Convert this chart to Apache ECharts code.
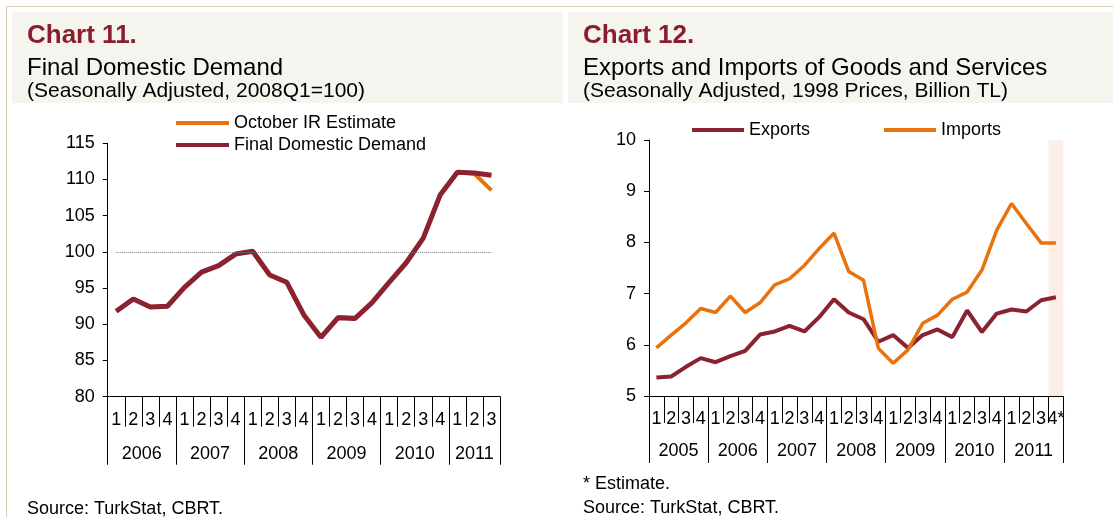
<!DOCTYPE html>
<html>
<head>
<meta charset="utf-8">
<script src="https://cdn.jsdelivr.net/npm/echarts@6/dist/echarts.min.js"></script>
<style>
  html, body { margin: 0; padding: 0; background: #fff; }
  #chart { width: 1113px; height: 517px; }
</style>
</head>
<body>
<div id="chart"></div>
<script>
// ---- Chart 11: Final Domestic Demand (2006Q1 - 2011Q3) ----
const fddQuarters = ['1','2','3','4','1','2','3','4','1','2','3','4','1','2','3','4','1','2','3','4','1','2','3']
const fddYears = ['2006', '2007', '2008', '2009', '2010', '2011']
const fddYearSpans = [4, 4, 4, 4, 4, 3]
const finalDomesticDemand = [91.8, 93.5, 92.4, 92.5, 95.1, 97.2, 98.1, 99.7, 100.1, 96.8, 95.8, 91.3,
  88.2, 90.9, 90.8, 93.0, 95.8, 98.5, 101.9, 107.9, 111.0, 110.9, 110.6]
const octoberIrEstimate = [91.8, 93.5, 92.4, 92.5, 95.1, 97.2, 98.1, 99.7, 100.1, 96.8, 95.8, 91.3,
  88.2, 91.0, 90.9, 93.0, 95.8, 98.5, 101.9, 107.9, 111.0, 110.8, 108.5]
const fddTicks = [80, 85, 90, 95, 100, 105, 110, 115]
const baseLevel = 100

// ---- Chart 12: Exports and Imports (2005Q1 - 2011Q4*) ----
const tradeQuarters = ['1','2','3','4','1','2','3','4','1','2','3','4','1','2','3','4',
  '1','2','3','4','1','2','3','4','1','2','3','4*']
const tradeYears = ['2005', '2006', '2007', '2008', '2009', '2010', '2011']
const tradeYearSpans = [4, 4, 4, 4, 4, 4, 4]
const exportsData = [5.36, 5.38, 5.57, 5.74, 5.66, 5.78, 5.88, 6.20, 6.26, 6.37, 6.26, 6.54, 6.89, 6.63,
  6.50, 6.06, 6.19, 5.94, 6.19, 6.30, 6.15, 6.67, 6.25, 6.61, 6.69, 6.65, 6.87, 6.93]
const importsData = [5.94, 6.19, 6.43, 6.71, 6.63, 6.95, 6.63, 6.82, 7.17, 7.29, 7.55, 7.88, 8.18, 7.43,
  7.26, 5.93, 5.64, 5.90, 6.42, 6.58, 6.89, 7.03, 7.46, 8.24, 8.76, 8.37, 7.99, 7.99]
const tradeTicks = [5, 6, 7, 8, 9, 10]
const estimatedQuarters = ['4*']

const maroon = '#8B2232'
const orange = '#E8730E'
const font = 'Liberation Sans'

// year boundaries and label centres from the spans
function yearMarks(spans) {
  const bounds = [0]
  const centres = []
  spans.forEach((s) => {
    const start = bounds[bounds.length - 1]
    centres.push(start + s / 2)
    bounds.push(start + s)
  })
  return { bounds, centres }
}
const fddMarks = yearMarks(fddYearSpans)
const tradeMarks = yearMarks(tradeYearSpans)

function quarterAxis(gridIndex, data, tickLen) {
  return {
    type: 'category',
    gridIndex,
    data,
    position: 'bottom',
    axisLine: { show: true, lineStyle: { color: '#000', width: 1 } },
    axisTick: { show: true, interval: 0, length: tickLen, lineStyle: { color: '#000', width: 1 } },
    axisLabel: { interval: 0, margin: 14, fontSize: 18, color: '#000', fontFamily: font },
    splitLine: { show: false },
  }
}

function yearAxis(gridIndex, years, marks, tickLen, labelMargin) {
  return {
    type: 'value',
    gridIndex,
    position: 'bottom',
    min: 0,
    max: marks.bounds[marks.bounds.length - 1],
    axisLine: { show: false },
    splitLine: { show: false },
    axisTick: { show: true, customValues: marks.bounds, length: tickLen, lineStyle: { color: '#000', width: 1 } },
    axisLabel: {
      customValues: marks.centres,
      margin: labelMargin,
      fontSize: 18,
      color: '#000',
      fontFamily: font,
      formatter: (v) => years[marks.centres.indexOf(v)] || '',
    },
  }
}

function valueAxis(gridIndex, ticks) {
  return {
    type: 'value',
    gridIndex,
    min: ticks[0],
    max: ticks[ticks.length - 1],
    interval: ticks[1] - ticks[0],
    axisLine: { show: true, lineStyle: { color: '#000', width: 1 } },
    axisTick: { show: true, length: 5, lineStyle: { color: '#000' } },
    axisLabel: { margin: 13, fontSize: 18, color: '#000', fontFamily: font },
    splitLine: { show: false },
  }
}

function textItem(text, left, top, size, color, weight) {
  return {
    text,
    left,
    top,
    padding: 0,
    textStyle: { fontSize: size, color, fontWeight: weight || 'normal', fontFamily: font },
  }
}

const estStart = tradeQuarters.indexOf(estimatedQuarters[0])

const option = {
  animation: false,
  textStyle: { fontFamily: font },
  graphic: [
    { type: 'rect', z: -10, shape: { x: 6, y: 6, width: 1107, height: 1 }, style: { fill: '#D9CDB3' } },
    { type: 'rect', z: -10, shape: { x: 6, y: 6, width: 1, height: 511 }, style: { fill: '#D9CDB3' } },
    { type: 'rect', z: -10, shape: { x: 12, y: 12, width: 551, height: 91 }, style: { fill: '#F6F4EF' } },
    { type: 'rect', z: -10, shape: { x: 568, y: 12, width: 545, height: 91 }, style: { fill: '#F6F4EF' } },
  ],
  title: [
    textItem('Chart 11.', 27, 23, 26, '#8B1E2E', 'bold'),
    textItem('Final Domestic Demand', 27, 56, 24, '#000'),
    textItem('(Seasonally Adjusted, 2008Q1=100)', 27, 81, 21, '#000'),
    textItem('Source: TurkStat, CBRT.', 27, 500, 18, '#000'),
    textItem('Chart 12.', 583, 23, 26, '#8B1E2E', 'bold'),
    textItem('Exports and Imports of Goods and Services', 583, 56, 24, '#000'),
    textItem('(Seasonally Adjusted, 1998 Prices, Billion TL)', 583, 81, 21, '#000'),
    textItem('* Estimate.', 583, 475, 18, '#000'),
    textItem('Source: TurkStat, CBRT.', 583, 499, 18, '#000'),
  ],
  legend: [
    {
      data: ['October IR Estimate', 'Final Domestic Demand'],
      orient: 'vertical',
      left: 176,
      top: 114,
      padding: 0,
      itemGap: 4,
      icon: 'rect',
      itemWidth: 53,
      itemHeight: 4,
      textStyle: { fontSize: 18, color: '#000', fontFamily: font },
    },
    {
      data: ['Exports', 'Imports'],
      orient: 'horizontal',
      left: 692,
      top: 121,
      padding: 0,
      itemGap: 74,
      icon: 'rect',
      itemWidth: 52,
      itemHeight: 4,
      textStyle: { fontSize: 18, color: '#000', fontFamily: font },
    },
  ],
  grid: [
    { left: 107.7, top: 143.3, width: 392.3, height: 253.4 },
    { left: 649, top: 140, width: 414.3, height: 256 },
  ],
  xAxis: [
    quarterAxis(0, fddQuarters, 30),
    yearAxis(0, fddYears, fddMarks, 68, 48),
    quarterAxis(1, tradeQuarters, 27),
    yearAxis(1, tradeYears, tradeMarks, 67, 46),
  ],
  yAxis: [valueAxis(0, fddTicks), valueAxis(1, tradeTicks)],
  series: [
    {
      name: 'October IR Estimate',
      type: 'line',
      xAxisIndex: 0,
      yAxisIndex: 0,
      data: octoberIrEstimate,
      symbol: 'none',
      color: orange,
      lineStyle: { color: orange, width: 4 },
      markLine: {
        silent: true,
        symbol: 'none',
        label: { show: false },
        lineStyle: { color: '#777', type: 'dotted', width: 1 },
        data: [[{ coord: [0, baseLevel] }, { coord: [fddQuarters.length - 1, baseLevel] }]],
      },
    },
    {
      name: 'Final Domestic Demand',
      type: 'line',
      xAxisIndex: 0,
      yAxisIndex: 0,
      data: finalDomesticDemand,
      symbol: 'none',
      color: maroon,
      lineStyle: { color: maroon, width: 5 },
    },
    {
      // shaded estimate period
      name: 'estimate',
      type: 'line',
      xAxisIndex: 3,
      yAxisIndex: 1,
      data: [],
      symbol: 'none',
      markArea: {
        silent: true,
        itemStyle: { color: '#FCEEE4' },
        data: [[{ xAxis: estStart }, { xAxis: estStart + estimatedQuarters.length }]],
      },
    },
    {
      name: 'Exports',
      type: 'line',
      xAxisIndex: 2,
      yAxisIndex: 1,
      data: exportsData,
      symbol: 'none',
      color: maroon,
      lineStyle: { color: maroon, width: 4 },
    },
    {
      name: 'Imports',
      type: 'line',
      xAxisIndex: 2,
      yAxisIndex: 1,
      data: importsData,
      symbol: 'none',
      color: orange,
      lineStyle: { color: orange, width: 3.5 },
    },
  ],
}

const myChart = echarts.init(document.getElementById('chart'))
myChart.setOption(option)
</script>
</body>
</html>
